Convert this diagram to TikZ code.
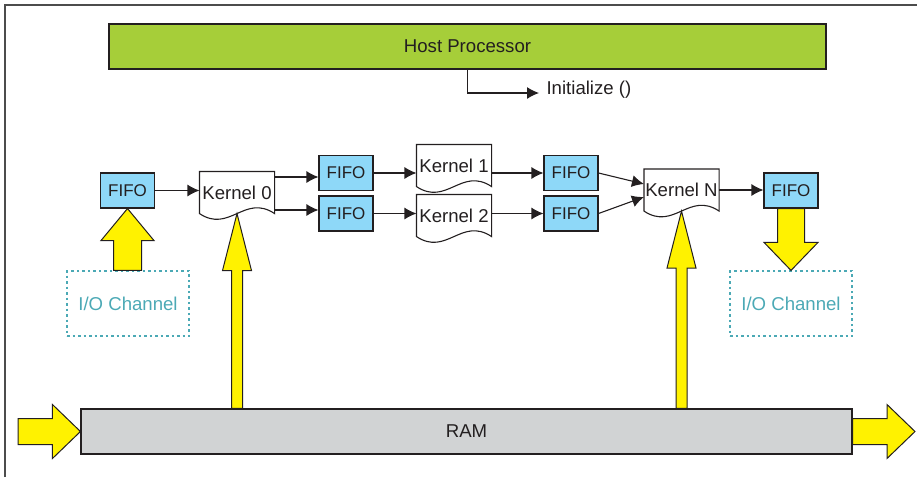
\documentclass[tikz,border=0pt]{standalone}
\usepackage{fontspec}
\setmainfont{Liberation Sans}
\usetikzlibrary{arrows.meta,calc}
\definecolor{hostgreen}{HTML}{A6CE39}
\definecolor{fifoblue}{HTML}{8ED8F8}
\definecolor{fatyellow}{HTML}{FFF200}
\definecolor{ramgray}{HTML}{D1D3D4}
\definecolor{ioteal}{HTML}{4BA9B5}
\definecolor{ink}{HTML}{231F20}

\begin{document}
\begin{tikzpicture}[x=1pt, y=-1pt, >={Latex[length=12pt,width=12pt]},
    color=ink, line width=1.1pt,
    every node/.style={font=\fontsize{18.6}{21}\selectfont},
    fifo/.style={draw, fill=fifoblue, minimum width=54pt, minimum height=35pt,
        inner sep=0pt, font=\fontsize{17}{19}\selectfont},
    kernel/.style={minimum width=74pt, minimum height=41pt, inner sep=0pt},
    io/.style={draw=ioteal, text=ioteal, line width=1.2pt,
        dash pattern=on 2.5pt off 3pt, minimum width=122pt, minimum height=65pt},
    flow/.style={->, line width=1.1pt},
    fat/.style={fill=fatyellow, draw=ink, line width=1pt, line join=miter}]
    \useasboundingbox (0,0) rectangle (917,477);
    % Khung
    \draw[line width=1.3pt, color=black!70] (5,477) -- (5,5) -- (917,5);
    % Host
    \node[draw, fill=hostgreen, minimum width=717pt, minimum height=45pt] (host) at (467.5,46.5) {Host Processor};
    \node[anchor=base west, inner sep=0pt] (init) at (546,94) {Initialize ()};
    \coordinate (initend) at (539,93);
    \draw[flow] (host.south) |- (initend);
    % FIFO va kernel
    \node[fifo] (fifo0) at (127.5,190.5) {FIFO};
    \node[kernel] (k0) at (237,192.5) {Kernel 0};
    \node[fifo] (fifo1) at (346,173) {FIFO};
    \node[fifo] (fifo2) at (346,213.5) {FIFO};
    \node[kernel] (k1) at (454,165.5) {Kernel 1};
    \node[kernel] (k2) at (454,215.5) {Kernel 2};
    \node[fifo] (fifo3) at (571,173) {FIFO};
    \node[fifo] (fifo4) at (571,213.5) {FIFO};
    \node[kernel] (kn) at (681.5,190) {Kernel N};
    \node[fifo] (fifo5) at (791,190.5) {FIFO};
    \foreach \k in {k0,k1,k2,kn}
        \draw (\k.south east) -- (\k.north east) -- (\k.north west) -- (\k.south west)
            .. controls ($(\k.south west)!0.4!(\k.south east)+(0,20)$)
            and ($(\k.south west)!0.6!(\k.south east)+(0,-20)$) .. (\k.south east) -- cycle;
    % I/O va RAM
    \node[io] (io0) at (128,303.5) {I/O Channel};
    \node[io] (io1) at (791,303.5) {I/O Channel};
    \node[draw, fill=ramgray, minimum width=771pt, minimum height=45pt] (ram) at (466.5,431.5) {RAM};
    \coordinate (ramin) at (18,431.5);
    \coordinate (ramout) at (915,431.5);
    % Mui ten
    \draw[flow] (fifo0.east) -- (fifo0.east -| k0.west);
    \draw[flow] ([yshift=15.5pt]k0.east) -- ([yshift=15.5pt]k0.east -| fifo1.west);
    \draw[flow] ([yshift=-17.5pt]k0.east) -- ([yshift=-17.5pt]k0.east -| fifo2.west);
    \draw[flow] (fifo1.east) -- (fifo1.east -| k1.west);
    \draw[flow] (fifo2.east) -- (fifo2.east -| k2.west);
    \draw[flow] (fifo3.west -| k1.east) -- (fifo3.west);
    \draw[flow] (fifo4.west -| k2.east) -- (fifo4.west);
    \draw[flow] (fifo3.east) -- ([yshift=6pt]kn.west);
    \draw[flow] (fifo4.east) -- ([yshift=-7pt]kn.west);
    \draw[flow] (kn.east) -- (kn.east -| fifo5.west);
    % Mui ten vang
    \draw[fat] ($(io0.north -| fifo0.south)+(-14,0)$) -- ($(fifo0.south)+(-14,32)$)
        -- ($(fifo0.south)+(-26.5,32)$) -- (fifo0.south) -- ($(fifo0.south)+(26.5,32)$)
        -- ($(fifo0.south)+(14,32)$) -- ($(io0.north -| fifo0.south)+(14,0)$) -- cycle;
    \foreach \k in {k0,kn}
        \draw[fat] ($(ram.north -| \k.south)+(-5.5,0)$) -- ($(\k.south)+(-5.5,57)$)
            -- ($(\k.south)+(-14.5,57)$) -- (\k.south) -- ($(\k.south)+(14.5,57)$)
            -- ($(\k.south)+(5.5,57)$) -- ($(ram.north -| \k.south)+(5.5,0)$) -- cycle;
    \draw[fat] ($(fifo5.south)+(-13.5,0)$) -- ($(io1.north -| fifo5.south)+(-13.5,-28)$)
        -- ($(io1.north -| fifo5.south)+(-27,-28)$) -- (io1.north -| fifo5.south)
        -- ($(io1.north -| fifo5.south)+(27,-28)$) -- ($(io1.north -| fifo5.south)+(13.5,-28)$)
        -- ($(fifo5.south)+(13.5,0)$) -- cycle;
    \draw[fat] ($(ramin)+(0,-13)$) -- ($(ram.west)+(-28,-13)$) -- ($(ram.west)+(-28,-27)$)
        -- (ram.west) -- ($(ram.west)+(-28,27)$) -- ($(ram.west)+(-28,13)$)
        -- ($(ramin)+(0,13)$) -- cycle;
    \draw[fat] ($(ram.east)+(0,-13)$) -- ($(ramout)+(-28,-13)$) -- ($(ramout)+(-28,-27)$)
        -- (ramout) -- ($(ramout)+(-28,27)$) -- ($(ramout)+(-28,13)$)
        -- ($(ram.east)+(0,13)$) -- cycle;
\end{tikzpicture}
\end{document}
